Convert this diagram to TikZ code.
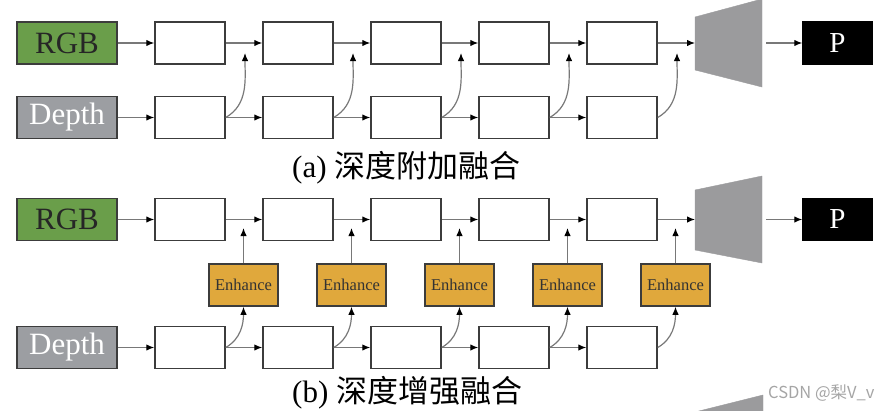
\documentclass[tikz,border=0pt]{standalone}
\usepackage{fontspec}
\setmainfont{Liberation Serif}
\newfontfamily\cjk{Noto Sans CJK SC}
\usetikzlibrary{arrows.meta}
\definecolor{rgbgreen}{RGB}{106,158,74}
\definecolor{depthgray}{RGB}{156,158,162}
\definecolor{enhorange}{RGB}{224,168,60}
\definecolor{boxline}{RGB}{60,60,60}
\definecolor{linkgray}{RGB}{120,120,120}
\definecolor{trapgray}{RGB}{155,155,157}
\definecolor{wmgray}{RGB}{165,165,165}
\begin{document}
\begin{tikzpicture}[x=1pt,y=-1pt,
  basebox/.style={draw=boxline,line width=1.5pt,inner sep=0pt,minimum height=42pt},
  feat/.style={basebox,fill=white,minimum width=70pt},
  srcrgb/.style={basebox,fill=rgbgreen,minimum width=100pt,text=black!85,font=\fontsize{31}{31}\selectfont},
  srcdepth/.style={basebox,fill=depthgray,minimum width=100pt,text=white,font=\fontsize{31}{31}\selectfont},
  outp/.style={basebox,fill=black,draw=black,minimum width=69pt,text=white,font=\fontsize{29}{29}\selectfont},
  enh/.style={basebox,fill=enhorange,minimum width=69pt,text=black!80,font=\fontsize{16.5}{16.5}\selectfont},
  link/.style={draw=linkgray,line width=1.2pt,-{Latex[length=8pt,width=6.5pt,color=black]}},
  trap/.style={fill=trapgray,draw=trapgray},
  caption/.style={anchor=west,inner sep=0pt,font=\fontsize{31}{31}\selectfont}
]
\useasboundingbox (0,0) rectangle (878,410);
\clip (0,0) rectangle (878,410);

% ================= panel (a) =================
\node[srcrgb] (argb) at (67,43) {RGB};
\node[srcdepth] (adep) at (67,117.5) {Depth};
\foreach \i in {1,...,5}{
  \node[feat] (at\i) at ({190+108*(\i-1)},43) {};
  \node[feat] (ab\i) at ({190+108*(\i-1)},117.5) {};
  \coordinate (am\i) at ({245+108*(\i-1)},53);
}
\fill[trap] (695,17) -- (762,-1) -- (762,87) -- (695,70) -- cycle;
\coordinate (atrapin) at (695,43);
\coordinate (atrapout) at (766,43);
\node[outp] (ap) at (837.5,43) {P};

\draw[link] (argb) -- (at1);
\draw[link] (adep) -- (ab1);
\foreach \i/\j in {1/2,2/3,3/4,4/5}{
  \draw[link] (at\i) -- (at\j);
  \draw[link] (ab\i) -- (ab\j);
}
\draw[link] (at5) -- (atrapin);
\draw[link] (atrapout) -- (ap);
\foreach \i in {1,...,5}{
  \draw[link] (ab\i.east) to[out=30,in=-90] (am\i);
}
\node[caption] (capa) at (292,168) {(a) {\cjk 深度附加融合}};

% ================= panel (b) =================
\node[srcrgb] (brgb) at (67,219.5) {RGB};
\node[srcdepth] (bdep) at (67,347.5) {Depth};
\foreach \i in {1,...,5}{
  \node[feat] (bt\i) at ({190+108*(\i-1)},219.5) {};
  \node[feat] (bb\i) at ({190+108*(\i-1)},347.5) {};
  \node[enh] (be\i) at ({243.5+108*(\i-1)},285) {Enhance};
  \coordinate (bm\i) at ({243.5+108*(\i-1)},228);
}
\fill[trap] (695,190) -- (762,176) -- (762,263) -- (695,250) -- cycle;
\coordinate (btrapin) at (695,219.5);
\coordinate (btrapout) at (766,219.5);
\node[outp] (bp) at (837.5,219.5) {P};

\draw[link] (brgb) -- (bt1);
\draw[link] (bdep) -- (bb1);
\foreach \i/\j in {1/2,2/3,3/4,4/5}{
  \draw[link] (bt\i) -- (bt\j);
  \draw[link] (bb\i) -- (bb\j);
}
\draw[link] (bt5) -- (btrapin);
\draw[link] (btrapout) -- (bp);
\foreach \i in {1,...,5}{
  \draw[link] (bb\i.east) to[out=30,in=-90] (be\i.south);
  \draw[link] (be\i.north) -- (bm\i);
}
\node[caption] (capb) at (292,393) {(b) {\cjk 深度增强融合}};

% ================= cut-off part below =================
\fill[trap] (695,412) -- (763,395) -- (763,430) -- (695,430) -- cycle;
\node[anchor=west,inner sep=0pt,text=wmgray,font=\cjk\fontsize{16.5}{16.5}\selectfont] (wm) at (768,393) {CSDN @梨V\_v};
\end{tikzpicture}
\end{document}
